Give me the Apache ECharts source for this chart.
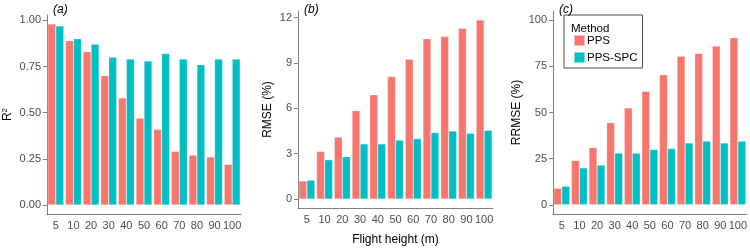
<!DOCTYPE html>
<html>
<head>
<meta charset="utf-8">
<script src="https://cdn.jsdelivr.net/npm/echarts@6/dist/echarts.min.js"></script>
<style>
  html, body { margin: 0; padding: 0; background: #fff; }
  #chart { width: 750px; height: 251px; }
</style>
</head>
<body>
<div id="chart"></div>
<script>
const heights = ["5", "10", "20", "30", "40", "50", "60", "70", "80", "90", "100"];

const r2Pps = [0.98, 0.89, 0.83, 0.70, 0.58, 0.47, 0.41, 0.29, 0.27, 0.26, 0.22];
const r2Spc = [0.97, 0.90, 0.87, 0.80, 0.79, 0.78, 0.82, 0.79, 0.76, 0.79, 0.79];

const rmsePps = [1.2, 3.15, 4.1, 5.85, 6.9, 8.1, 9.25, 10.6, 10.75, 11.3, 11.85];
const rmseSpc = [1.25, 2.6, 2.8, 3.65, 3.65, 3.9, 4.0, 4.4, 4.5, 4.35, 4.55];

const rrmsePps = [9, 24, 31, 44.5, 52.5, 61.5, 70.5, 80.5, 82, 86, 90.5];
const rrmseSpc = [10, 20, 21.5, 28, 28, 30, 30.5, 33.5, 34.5, 33.5, 34.5];

const r2Ticks = [0, 0.25, 0.5, 0.75, 1];
const rmseTicks = [0, 3, 6, 9, 12];
const rrmseTicks = [0, 25, 50, 75, 100];

const RED = "#F8766D";
const TEAL = "#00BFC4";
const FONT = "Liberation Sans, Arial, sans-serif";
const axisGrey = "#4d4d4d";

const grids = [
  { left: 46, top: 15, width: 195, height: 199 },
  { left: 298, top: 11, width: 195, height: 203 },
  { left: 553, top: 11, width: 195, height: 203 },
];

function xAxis(i, name) {
  return {
    type: "category",
    gridIndex: i,
    data: heights,
    name: name || "",
    nameLocation: "middle",
    nameGap: 26,
    nameTextStyle: { color: "#000", fontSize: 12, fontFamily: FONT },
    axisLine: { onZero: false, lineStyle: { color: "#808080", width: 1 } },
    axisTick: { alignWithLabel: true, length: 4, lineStyle: { color: "#808080" } },
    axisLabel: { interval: 0, color: axisGrey, fontSize: 11, fontFamily: FONT, margin: 6, hideOverlap: false },
  };
}

function yAxis(i, min, max, ticks, fmt, name, gap) {
  return {
    type: "value",
    gridIndex: i,
    min: min,
    max: max,
    name: name,
    nameLocation: "middle",
    nameRotate: 90,
    nameGap: gap,
    nameTextStyle: {
      color: "#000",
      fontSize: 12,
      fontFamily: FONT,
      rich: { sup: { fontSize: 8, verticalAlign: "top", padding: [0, 0, 6, 0], color: "#000" } },
    },
    splitLine: { show: false },
    axisLine: { show: true, lineStyle: { color: "#808080", width: 1 } },
    axisTick: { show: true, length: 4, customValues: ticks, lineStyle: { color: "#808080" } },
    axisLabel: {
      color: axisGrey,
      fontSize: 11,
      fontFamily: FONT,
      margin: 6,
      customValues: ticks,
      formatter: fmt,
    },
  };
}

function bars(i, name, data, color) {
  return {
    type: "bar",
    name: name,
    xAxisIndex: i,
    yAxisIndex: i,
    data: data,
    barWidth: 8,
    barGap: "0%",
    itemStyle: { color: color, borderColor: "rgba(255,255,255,0.5)", borderWidth: 0.5 },
  };
}

const chart = echarts.init(document.getElementById("chart"), null, { renderer: "canvas" });
chart.setOption({
  animation: false,
  textStyle: { fontFamily: FONT },
  grid: grids,
  xAxis: [xAxis(0), xAxis(1, "Flight height (m)"), xAxis(2)],
  yAxis: [
    yAxis(0, -0.049, 1.029, r2Ticks, (v) => v.toFixed(2), "R{sup|2}", 32),
    yAxis(1, -0.59, 12.44, rmseTicks, (v) => String(v), "RMSE (%)", 24),
    yAxis(2, -5, 105, rrmseTicks, (v) => String(v), "RRMSE (%)", 30),
  ],
  title: [
    { text: "(a)", left: 48, top: -1, textStyle: { fontSize: 12, fontStyle: "italic", fontWeight: "normal", color: "#000", fontFamily: FONT } },
    { text: "(b)", left: 299, top: -1, textStyle: { fontSize: 12, fontStyle: "italic", fontWeight: "normal", color: "#000", fontFamily: FONT } },
    { text: "(c)", left: 554, top: -1, textStyle: { fontSize: 12, fontStyle: "italic", fontWeight: "normal", color: "#000", fontFamily: FONT } },
    { text: "Method", left: 566, top: 18, textStyle: { fontSize: 11.5, fontWeight: "normal", color: "#000", fontFamily: FONT } },
  ],
  legend: {
    data: ["PPS", "PPS-SPC"],
    orient: "vertical",
    left: 564,
    top: 15,
    padding: [19, 5, 4, 9],
    itemGap: 4,
    itemWidth: 11,
    itemHeight: 11,
    borderColor: "#4d4d4d",
    borderWidth: 1,
    borderRadius: 0,
    icon: "rect",
    textStyle: { fontSize: 11.5, color: "#000", fontFamily: FONT, padding: [0, 0, 0, -3] },
  },
  series: [
    bars(0, "PPS", r2Pps, RED),
    bars(0, "PPS-SPC", r2Spc, TEAL),
    bars(1, "PPS", rmsePps, RED),
    bars(1, "PPS-SPC", rmseSpc, TEAL),
    bars(2, "PPS", rrmsePps, RED),
    bars(2, "PPS-SPC", rrmseSpc, TEAL),
  ],
});
</script>
</body>
</html>
